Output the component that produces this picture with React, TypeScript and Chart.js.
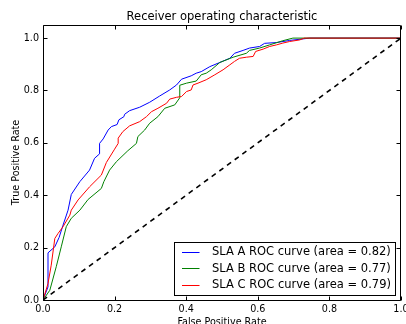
import React, { useEffect, useRef } from "react";
import { Chart, registerables } from "chart.js";

Chart.register(...registerables);

const chartTitle = "Receiver operating characteristic";
const xAxisTitle = "False Positive Rate";
const yAxisTitle = "True Positive Rate";
const tickValues = [0, 0.2, 0.4, 0.6, 0.8, 1.0];

const labelA = "SLA A ROC curve (area = 0.82)";
const labelB = "SLA B ROC curve (area = 0.77)";
const labelC = "SLA C ROC curve (area = 0.79)";

const fprA = [0, 0.014, 0.014, 0.033, 0.045, 0.056, 0.070, 0.079, 0.103, 0.130, 0.144, 0.158, 0.158, 0.168, 0.182, 0.191, 0.207, 0.212, 0.226, 0.228, 0.242, 0.270, 0.298, 0.326, 0.354, 0.373, 0.387, 0.414, 0.428, 0.442, 0.466, 0.494, 0.522, 0.535, 0.559, 0.577, 0.605, 0.619, 0.652, 0.689, 0.745, 1.0];
const tprA = [0, 0.05, 0.18, 0.203, 0.239, 0.286, 0.343, 0.403, 0.452, 0.496, 0.541, 0.558, 0.598, 0.615, 0.649, 0.662, 0.670, 0.688, 0.700, 0.709, 0.723, 0.736, 0.755, 0.779, 0.802, 0.821, 0.843, 0.856, 0.866, 0.872, 0.891, 0.907, 0.923, 0.942, 0.953, 0.962, 0.968, 0.980, 0.983, 0.991, 1.0, 1.0];

const fprB = [0, 0.019, 0.037, 0.051, 0.065, 0.079, 0.103, 0.126, 0.163, 0.170, 0.186, 0.205, 0.237, 0.261, 0.265, 0.284, 0.298, 0.321, 0.340, 0.368, 0.382, 0.382, 0.401, 0.428, 0.442, 0.456, 0.470, 0.494, 0.531, 0.568, 0.577, 0.605, 0.633, 0.670, 0.698, 1.0];
const tprB = [0, 0.037, 0.127, 0.203, 0.280, 0.312, 0.343, 0.384, 0.426, 0.452, 0.496, 0.528, 0.570, 0.598, 0.624, 0.649, 0.675, 0.700, 0.732, 0.745, 0.772, 0.820, 0.828, 0.836, 0.860, 0.866, 0.879, 0.907, 0.927, 0.942, 0.953, 0.962, 0.974, 0.990, 1.0, 1.0];

const fprC = [0, 0.014, 0.023, 0.033, 0.042, 0.056, 0.075, 0.079, 0.098, 0.130, 0.163, 0.177, 0.200, 0.210, 0.210, 0.223, 0.242, 0.270, 0.289, 0.303, 0.321, 0.345, 0.354, 0.373, 0.387, 0.401, 0.414, 0.419, 0.433, 0.456, 0.480, 0.503, 0.522, 0.535, 0.549, 0.568, 0.587, 0.594, 0.615, 0.633, 0.652, 0.670, 0.689, 0.717, 0.730, 1.0];
const tprC = [0, 0.063, 0.133, 0.235, 0.254, 0.280, 0.324, 0.343, 0.382, 0.432, 0.477, 0.525, 0.576, 0.598, 0.618, 0.643, 0.665, 0.681, 0.700, 0.719, 0.732, 0.751, 0.767, 0.774, 0.777, 0.796, 0.802, 0.821, 0.828, 0.841, 0.860, 0.879, 0.898, 0.911, 0.923, 0.927, 0.930, 0.949, 0.958, 0.968, 0.974, 0.981, 0.987, 0.993, 1.0, 1.0];

const diagX = [0, 1];
const diagY = [0, 1];

const FONT = "'DejaVu Sans', 'Bitstream Vera Sans', sans-serif";

const toPoints = (xs: number[], ys: number[]) => xs.map((x, i) => ({ x, y: ys[i] }));

const decorPlugin = {
  id: "decor",
  afterDraw(chart: any) {
    const { ctx, chartArea: a, scales } = chart;
    const xs = scales.x;
    const ys = scales.y;
    ctx.save();
    // frame
    ctx.strokeStyle = "#000";
    ctx.lineWidth = 1;
    const L = Math.round(a.left) + 0.5;
    const R = Math.round(a.right) - 0.5;
    const T = Math.round(a.top) + 0.5;
    const B = Math.round(a.bottom) + 0.5;
    ctx.beginPath();
    ctx.moveTo(L, T);
    ctx.lineTo(R, T);
    ctx.lineTo(R, B);
    ctx.lineTo(L, B);
    ctx.closePath();
    ctx.stroke();
    // inward ticks on all four sides
    const tl = 4;
    ctx.beginPath();
    tickValues.forEach((v) => {
      const px = Math.round(xs.getPixelForValue(v)) + 0.5;
      ctx.moveTo(px, B);
      ctx.lineTo(px, B - tl);
      ctx.moveTo(px, T);
      ctx.lineTo(px, T + tl);
      const py = Math.round(ys.getPixelForValue(v)) + 0.5;
      ctx.moveTo(L, py);
      ctx.lineTo(L + tl, py);
      ctx.moveTo(R, py);
      ctx.lineTo(R - tl, py);
    });
    ctx.stroke();

    // title
    ctx.fillStyle = "#000";
    ctx.font = `11.5px ${FONT}`;
    ctx.textAlign = "center";
    ctx.textBaseline = "middle";
    ctx.fillText(chartTitle, (a.left + a.right) / 2, 17);
    // axis titles
    ctx.font = `9.6px ${FONT}`;
    ctx.textBaseline = "alphabetic";
    ctx.fillText(xAxisTitle, (a.left + a.right) / 2, 324.5);
    ctx.textBaseline = "middle";
    ctx.save();
    ctx.translate(16, (a.top + a.bottom) / 2);
    ctx.rotate(-Math.PI / 2);
    ctx.fillText(yAxisTitle, 0, 0);
    ctx.restore();

    // legend
    const ds = chart.data.datasets.filter((d: any) => d.legendItem);
    ctx.font = `11.5px ${FONT}`;
    let maxW = 0;
    ds.forEach((d: any) => {
      maxW = Math.max(maxW, ctx.measureText(d.label).width);
    });
    const textOff = 37.5;
    const boxW = textOff + maxW + 5;
    const boxH = 53;
    const boxRight = a.right - 5.5;
    const boxBottom = a.bottom - 5;
    const bx = Math.round(boxRight - boxW) + 0.5;
    const by = Math.round(boxBottom - boxH) + 0.5;
    ctx.fillStyle = "#fff";
    ctx.fillRect(bx, by, Math.round(boxW), boxH);
    ctx.strokeStyle = "#000";
    ctx.lineWidth = 1;
    ctx.strokeRect(bx, by, Math.round(boxW), boxH);
    ds.forEach((d: any, i: number) => {
      const cy = by + 9 + i * 16.5;
      ctx.strokeStyle = d.borderColor;
      ctx.lineWidth = 1;
      ctx.beginPath();
      ctx.moveTo(bx + 7.5, Math.round(cy) + 0.5);
      ctx.lineTo(bx + 25, Math.round(cy) + 0.5);
      ctx.stroke();
      ctx.fillStyle = "#000";
      ctx.textAlign = "left";
      ctx.textBaseline = "middle";
      ctx.fillText(d.label, bx + textOff, cy + 1);
    });
    ctx.restore();
  },
};

export default function App() {
  const canvasRef = useRef<HTMLCanvasElement | null>(null);

  useEffect(() => {
    const canvas = canvasRef.current;
    if (!canvas) return;
    Chart.defaults.font.family = FONT;
    const chart = new Chart(canvas, {
      type: "scatter",
      data: {
        datasets: [
          {
            label: labelA,
            data: toPoints(fprA, tprA),
            borderColor: "#0000ff",
            backgroundColor: "#0000ff",
            showLine: true,
            pointRadius: 0,
            borderWidth: 1,
            tension: 0,
            order: 3,
            legendItem: true,
          } as any,
          {
            label: labelB,
            data: toPoints(fprB, tprB),
            borderColor: "#008000",
            backgroundColor: "#008000",
            showLine: true,
            pointRadius: 0,
            borderWidth: 1,
            tension: 0,
            order: 2,
            legendItem: true,
          } as any,
          {
            label: labelC,
            data: toPoints(fprC, tprC),
            borderColor: "#ff0000",
            backgroundColor: "#ff0000",
            showLine: true,
            pointRadius: 0,
            borderWidth: 1,
            tension: 0,
            order: 1,
            legendItem: true,
          } as any,
          {
            label: "diagonal",
            data: toPoints(diagX, diagY),
            borderColor: "#000",
            backgroundColor: "#000",
            showLine: true,
            pointRadius: 0,
            borderWidth: 1.6,
            borderDash: [5, 4.5],
            order: 0,
          } as any,
        ],
      },
      options: {
        responsive: false,
        animation: false,
        layout: { padding: { top: 25, right: 5, left: 0, bottom: 0 } },
        plugins: {
          legend: { display: false },
          title: { display: false },
          tooltip: { enabled: false },
        },
        scales: {
          x: {
            type: "linear",
            min: 0,
            max: 1,
            grid: { display: false, drawTicks: false },
            border: { display: false },
            afterBuildTicks: (s: any) => {
              s.ticks = tickValues.map((v) => ({ value: v }));
            },
            afterFit: (s: any) => {
              s.height = 24;
              s.paddingLeft = 0;
              s.paddingRight = 0;
            },
            ticks: {
              padding: 4,
              color: "#000",
              font: { size: 9.6, family: FONT },
              maxRotation: 0,
              autoSkip: false,
              callback: (v: any) => Number(v).toFixed(1),
            },
          },
          y: {
            type: "linear",
            min: 0,
            max: 1.05,
            grid: { display: false, drawTicks: false },
            border: { display: false },
            afterBuildTicks: (s: any) => {
              s.ticks = tickValues.map((v) => ({ value: v }));
            },
            afterFit: (s: any) => {
              s.width = 43;
              s.paddingTop = 0;
              s.paddingBottom = 0;
            },
            ticks: {
              padding: 4,
              color: "#000",
              font: { size: 9.6, family: FONT },
              autoSkip: false,
              callback: (v: any) => Number(v).toFixed(1),
            },
          },
        },
      },
      plugins: [decorPlugin],
    });
    return () => chart.destroy();
  }, []);

  return (
    <div style={{ position: "absolute", left: 0, top: 0, width: 406, height: 324, background: "#fff" }}>
      <canvas ref={canvasRef} width={406} height={324} style={{ display: "block" }} />
    </div>
  );
}
